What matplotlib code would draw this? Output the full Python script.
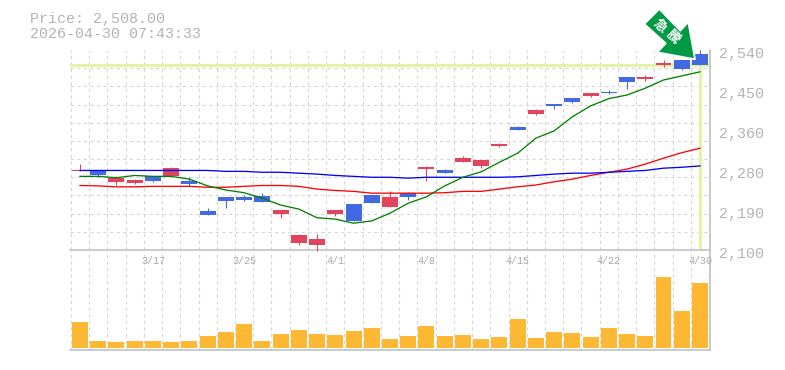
import matplotlib
matplotlib.use("Agg")
import matplotlib.pyplot as plt
from matplotlib.patches import Polygon
from matplotlib.transforms import ScaledTranslation

title_lines = ["Price: 2,508.00", "2026-04-30 07:43:33"]
last_price = 2508

opens = [2274,2276,2250,2247,2263,2263,2252,2186,2217,2217,2219,2179,2115,2111,2179,2201,2221,2195,2225,2278,
         2276,2294,2285,2329,2371,2399,2421,2434,2439,2448,2481,2476,2507,2518,2531]
highs = [2289,2276,2263,2256,2263,2283,2260,2192,2217,2221,2225,2188,2135,2135,2188,2201,2221,2230,2228,2285,
         2278,2307,2298,2335,2373,2410,2421,2434,2445,2452,2481,2485,2518,2518,2540]
lows = [2274,2261,2243,2245,2250,2263,2241,2177,2192,2208,2206,2170,2111,2098,2175,2164,2203,2195,2210,2252,
        2269,2294,2280,2327,2364,2397,2410,2423,2437,2443,2454,2472,2503,2496,2508]
closes = [2276,2266,2258,2254,2252,2280,2245,2177,2208,2210,2206,2188,2133,2124,2188,2164,2203,2217,2217,2283,
          2269,2302,2298,2333,2364,2408,2417,2426,2445,2445,2470,2481,2511,2498,2508]

ma_green = [2262,2262,2259,2264,2262,2262,2256,2241,2232,2226,2214,2199,2190,2171,2168,2159,2164,2181,2203,2217,
            2241,2260,2272,2293,2313,2346,2362,2393,2417,2433,2441,2456,2474,2483,2492]
ma_blue = [2275,2275,2275,2275,2275,2275,2275,2275,2273,2273,2271,2271,2269,2267,2264,2262,2260,2260,2258,2260,
           2260,2260,2260,2260,2261,2264,2267,2269,2269,2271,2273,2275,2280,2282,2285]
ma_red = [2242,2241,2239,2239,2240,2240,2240,2238,2238,2240,2242,2242,2240,2234,2231,2229,2225,2225,2225,2225,
          2226,2229,2229,2234,2239,2243,2250,2256,2264,2271,2278,2289,2302,2314,2324]

volumes = [26,7,6,7,7,6,7,12,16,24,7,14,18,14,13,17,20,9,12,22,12,13,9,11,29,10,16,15,11,20,14,12,71,37,65]

date_pos = [4,9,14,19,24,29,34]
date_labels = ["3/17","3/25","4/1","4/8","4/15","4/22","4/30"]
price_ticks = [2100,2188,2276,2364,2452,2540]
price_labels = ["2,100","2,190","2,280","2,360","2,450","2,540"]
grid_prices = list(range(2100,2541,40))
arrow_text = ["急","騰"]

W,H = 785,370
FONT = "Liberation Mono"
GREY = "#b4b4b4"
GRID = "#d6d6d6"
AXC = "#c0c0c0"
UP = "#e2445f"
DOWN = "#4169e1"
px = 72/100

fig = plt.figure(figsize=(W/100,H/100),dpi=100,facecolor="white")
def rect(l,t,r,b):
    return [l/W,1-b/H,(r-l)/W,(b-t)/H]
ax = fig.add_axes(rect(70,50,710,250))
av = fig.add_axes(rect(70,250,710,350))
n = len(opens)
xs = list(range(n))
edges = [i-0.5 for i in range(n+1)]
for a in (ax,av):
    a.set_xlim(-0.548,34.55)
    a.set_xticks(edges)
    a.tick_params(axis="both",which="both",length=0,labelbottom=False)
    a.grid(True,axis="x",color=GRID,lw=1.1*px,ls=(0,(3,3)))
    a.set_axisbelow(True)
    a.set_facecolor("none")
    for s in ("left","top"):
        a.spines[s].set_visible(False)
    for s in ("right","bottom"):
        a.spines[s].set_color(AXC)
        a.spines[s].set_linewidth(1.6*px)

ax.set_ylim(2100,2540)
ax.yaxis.tick_right()
ax.set_yticks(price_ticks)
ax.set_yticklabels(price_labels,family=FONT,fontsize=15*px,color=GREY)
ax.set_yticks(grid_prices,minor=True)
ax.tick_params(axis="y",which="both",length=0,pad=6.5)
ax.grid(True,axis="y",which="minor",color=GRID,lw=1.1*px,ls=(0,(3,3)))
off = ScaledTranslation(0,-2.2/100,fig.dpi_scale_trans)
for lab in ax.get_yticklabels():
    lab.set_transform(lab.get_transform()+off)

ax.axhline(last_price,color="#e2f3a6",lw=3*px,zorder=1.5)
ax.plot([xs[-1],xs[-1]],[last_price,2102],color="#e2f3a6",lw=3*px,zorder=1.5,solid_capstyle="butt")

for i in xs:
    c = UP if closes[i]>=opens[i] else DOWN
    ax.vlines(i,lows[i],highs[i],color=c,lw=1.1*px,zorder=3,clip_on=False)
    lo,hi = sorted((opens[i],closes[i]))
    ax.bar(i,hi-lo,bottom=lo,width=0.877,color=c,lw=0,zorder=3)

ax.plot(xs,ma_red,color="#ff0000",lw=1.3*px,zorder=4)
ax.plot(xs,ma_blue,color="#0000ff",lw=1.3*px,zorder=4)
ax.plot(xs,ma_green,color="#008000",lw=1.3*px,zorder=4)

av.set_ylim(-2,98)
av.set_yticks([])
av.bar(xs,volumes,width=0.877,color="#ffb833",lw=0,zorder=3)
for p,l in zip(date_pos,date_labels):
    av.text(p,0.885,l,transform=av.get_xaxis_transform(),ha="center",va="center",
            family=FONT,fontsize=10*px,color="#a8a8a8",clip_on=False,zorder=5)

def fx(x,y):
    return (x/W,1-y/H)
fig.text(*fx(30,23),title_lines[0],family=FONT,fontsize=15*px,color=GREY,va="baseline")
fig.text(*fx(30,38),title_lines[1],family=FONT,fontsize=15*px,color=GREY,va="baseline")

arrow_px = [(659.3,9),(644.3,24),(665.7,43.3),(657.3,52.3),(695,59.3),(688.3,22),(680.3,30.7)]
fig.add_artist(Polygon([fx(*p) for p in arrow_px],closed=True,facecolor="#009944",edgecolor="white",
                       lw=1.8*px,joinstyle="round",transform=fig.transFigure,zorder=10))
for (x,y),ch in zip([(660,25.7),(672.7,37.3)],arrow_text):
    fig.text(*fx(x,y),ch,family=["Noto Sans CJK JP","DejaVu Sans"],fontsize=13.5*px,color="white",
             fontweight="bold",rotation=-42,ha="center",va="center",rotation_mode="anchor",zorder=11)

fig.savefig("out.png",dpi=100,facecolor="white")
